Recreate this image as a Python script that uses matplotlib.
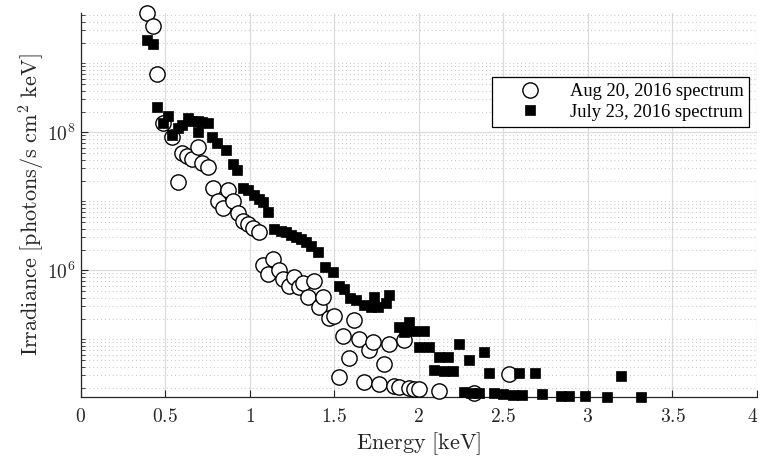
import numpy as np
import matplotlib
matplotlib.use("Agg")
import matplotlib.pyplot as plt
import matplotlib.transforms as mtransforms
from matplotlib.ticker import FixedLocator, FuncFormatter

plt.rcParams['mathtext.fontset'] = 'cm'
plt.rcParams['font.family'] = ['DejaVu Serif']

# ---- data (energy in keV, log10 irradiance) ----
aug_energy = [0.393, 0.425, 0.454, 0.484, 0.541, 0.573, 0.602, 0.629, 0.661, 0.694,
              0.720, 0.753, 0.783, 0.812, 0.842, 0.871, 0.901, 0.930, 0.960, 0.989,
              1.019, 1.054, 1.078, 1.107, 1.137, 1.172, 1.196, 1.232, 1.259, 1.291,
              1.314, 1.344, 1.377, 1.407, 1.436, 1.468, 1.497, 1.525, 1.554, 1.586,
              1.615, 1.645, 1.674, 1.704, 1.731, 1.763, 1.792, 1.822, 1.851, 1.881,
              1.910, 1.940, 1.969, 2.003, 2.121, 2.328, 2.534]
aug_log_irr = [9.733, 9.545, 8.845, 8.139, 7.936, 7.275, 7.700, 7.657, 7.609, 7.780,
               7.560, 7.500, 7.188, 7.004, 6.907, 7.164, 7.004, 6.835, 6.714, 6.667,
               6.609, 6.551, 6.070, 5.942, 6.164, 6.004, 5.870, 5.772, 5.907, 5.754,
               5.810, 5.617, 5.845, 5.473, 5.614, 5.310, 5.340, 4.458, 5.048, 4.733,
               5.280, 5.000, 4.377, 4.845, 4.957, 4.348, 4.638, 4.928, 4.323, 4.304,
               4.990, 4.290, 4.280, 4.275, 4.255, 4.217, 4.497]

jul_energy = [0.393, 0.425, 0.454, 0.484, 0.514, 0.541, 0.573, 0.602, 0.632, 0.661,
              0.691, 0.720, 0.750, 0.691, 0.779, 0.809, 0.862, 0.901, 0.925, 0.960,
              0.989, 1.023, 1.053, 1.078, 1.107, 1.141, 1.187, 1.216, 1.246, 1.275,
              1.305, 1.334, 1.364, 1.403, 1.442, 1.491, 1.527, 1.560, 1.590, 1.629,
              1.678, 1.718, 1.737, 1.757, 1.806, 1.826, 1.885, 1.915, 1.944, 1.974,
              2.033, 2.003, 2.062, 2.092, 2.121, 2.151, 2.170, 2.200, 2.239, 2.268,
              2.298, 2.309, 2.357, 2.387, 2.416, 2.446, 2.495, 2.554, 2.593, 2.613,
              2.688, 2.731, 2.839, 2.888, 2.980, 3.115, 3.194, 3.313]
jul_log_irr = [9.338, 9.275, 8.371, 8.139, 8.236, 7.960, 8.067, 8.106, 8.203, 8.168,
               8.168, 8.154, 8.139, 8.009, 7.936, 7.850, 7.750, 7.540, 7.454, 7.188,
               7.164, 7.091, 7.030, 6.994, 6.849, 6.594, 6.574, 6.551, 6.512, 6.478,
               6.449, 6.406, 6.352, 6.270, 6.043, 5.980, 5.772, 5.725, 5.594, 5.570,
               5.497, 5.473, 5.617, 5.473, 5.520, 5.642, 5.174, 5.110, 5.255, 5.125,
               5.125, 4.893, 4.884, 4.555, 4.739, 4.545, 4.739, 4.545, 4.932, 4.232,
               4.700, 4.226, 4.226, 4.820, 4.516, 4.220, 4.210, 4.190, 4.507, 4.190,
               4.507, 4.200, 4.178, 4.178, 4.178, 4.168, 4.468, 4.168]

x_ticks = [0, 0.5, 1, 1.5, 2, 2.5, 3, 3.5, 4]
x_tick_labels = ['0', '0.5', '1', '1.5', '2', '2.5', '3', '3.5', '4']
y_major = [1e4, 1e6, 1e8, 1e10]

aug_irr = 10 ** np.array(aug_log_irr)
jul_irr = 10 ** np.array(jul_log_irr)

fig = plt.figure(figsize=(7.61, 4.58), dpi=100)
ax = fig.add_axes([80.7 / 761, 1 - 396.7 / 458, (757.0 - 80.7) / 761, (396.7 - 13.3) / 458])

ax.set_yscale('log')
ax.set_xlim(0, 4)
ax.set_ylim(10 ** 4.168, 10 ** 9.725)

ax.plot(aug_energy, aug_irr, linestyle='none', marker='o', ms=11, mfc='white',
        mec='black', mew=1.0, label='Aug 20, 2016 spectrum', clip_on=False, zorder=3)
ax.plot(jul_energy, jul_irr, linestyle='none', marker='s', ms=7.5, mfc='black',
        mec='black', mew=0.5, label='July 23, 2016 spectrum', clip_on=False, zorder=4)

# ticks
ax.xaxis.set_major_locator(FixedLocator(x_ticks))
ax.set_xticklabels([r'$\mathrm{%s}$' % t for t in x_tick_labels])
ax.yaxis.set_major_locator(FixedLocator(y_major))
ax.yaxis.set_major_formatter(FuncFormatter(lambda v, p: r'$10^{%d}$' % int(round(np.log10(v)))))
minor = [k * 10.0 ** n for n in range(3, 11) for k in range(1, 10)]
minor = [m for m in minor if m not in y_major]
ax.yaxis.set_minor_locator(FixedLocator(minor))
ax.yaxis.set_minor_formatter(FuncFormatter(lambda v, p: ''))

ax.tick_params(axis='both', which='major', direction='in', length=5, width=0.8,
               color='#262626', labelsize=14, labelcolor='#262626')
ax.tick_params(axis='y', which='minor', direction='in', length=3, width=0.6, color='#262626')
ax.tick_params(axis='x', pad=8)

# keep the last x tick label inside the figure
last = ax.get_xticklabels()[-1]
last.set_transform(last.get_transform() + mtransforms.ScaledTranslation(-4 / 100, 0, fig.dpi_scale_trans))

for s in ['top', 'right']:
    ax.spines[s].set_visible(False)
for s in ['left', 'bottom']:
    ax.spines[s].set_color('#262626')
    ax.spines[s].set_linewidth(0.9)

ax.grid(True, which='major', axis='both', color='#dcdcdc', linewidth=0.9, linestyle='-')
ax.grid(True, which='minor', axis='y', color='#cccccc', linewidth=0.8, linestyle=(0, (1, 2.5)))
ax.set_axisbelow(True)

ax.set_xlabel(r'$\mathrm{Energy\ [keV]}$', fontsize=16, color='#262626', labelpad=3)
ax.set_ylabel(r'$\mathrm{Irradiance\ [photons/s\ cm^2\ keV]}$', fontsize=16, color='#262626', labelpad=0)

leg = ax.legend(loc='upper right', bbox_to_anchor=(749.3 / 761, 1 - 77.3 / 458),
                bbox_transform=fig.transFigure, borderaxespad=0,
                prop={'family': 'Liberation Serif', 'size': 13.3},
                handlelength=3.5, handletextpad=0.4, borderpad=0.32, labelspacing=0.2,
                fancybox=False, framealpha=1, edgecolor='black')
leg.get_frame().set_linewidth(0.9)

fig.savefig('out.png', dpi=100)
